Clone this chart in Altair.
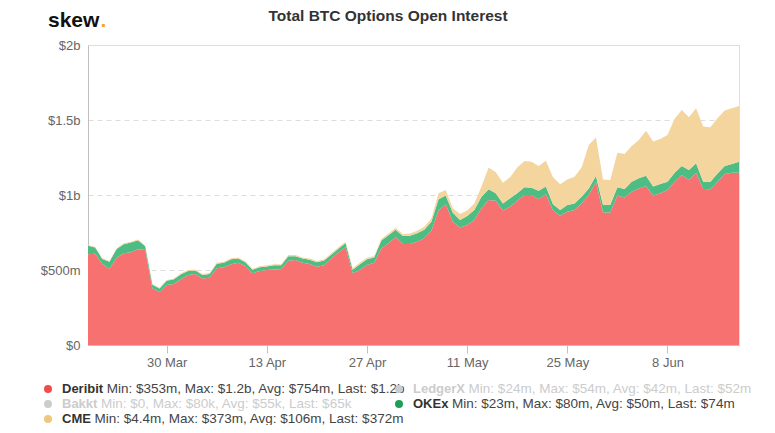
import altair as alt
import pandas as pd

# ---------------- data ----------------
start_date = "2020-03-19"
n_days = 92
dates = pd.date_range(start_date, periods=n_days, freq="D").strftime("%Y-%m-%d").tolist()

# values in $ millions
deribit_m = [605, 609, 540, 509, 582, 611, 618, 638, 633, 378,
             353, 400, 407, 438, 467, 473, 444, 449, 511, 518,
             538, 549, 527, 478, 493, 500, 504, 505, 562, 567,
             549, 540, 522, 531, 576, 616, 651, 478, 500, 533,
             549, 644, 678, 718, 673, 673, 689, 711, 762, 896,
             940, 822, 784, 800, 833, 911, 967, 962, 896, 922,
             962, 1000, 1000, 971, 1007, 896, 862, 889, 900, 944,
             1000, 1089, 884, 884, 996, 984, 1022, 1044, 1060, 996,
             1011, 1033, 1089, 1133, 1100, 1149, 1040, 1038, 1089, 1140,
             1149, 1148]
okex_m = [57, 41, 34, 46, 58, 61, 65, 60, 25, 24,
          24, 28, 31, 34, 27, 24, 23, 25, 31, 30,
          33, 28, 24, 24, 25, 24, 27, 26, 30, 25,
          27, 28, 30, 32, 26, 26, 29, 24, 39, 39,
          34, 52, 54, 51, 53, 56, 56, 58, 60, 75,
          56, 60, 49, 60, 67, 78, 71, 49, 48, 56,
          49, 51, 49, 58, 49, 42, 38, 44, 44, 45,
          44, 38, 49, 49, 55, 56, 67, 67, 69, 60,
          62, 56, 60, 60, 67, 62, 49, 51, 55, 53,
          58, 74]
cme_m = [5, 5, 4.4, 5, 5, 6, 6, 6, 5, 5,
         5, 5, 6, 6, 6, 6, 6, 6, 7, 7,
         7, 7, 7, 7, 7, 7, 7, 7, 8, 8,
         8, 8, 8, 8, 9, 9, 9, 9, 10, 10,
         10, 11, 12, 13, 14, 15, 17, 20, 22, 40,
         37, 29, 40, 36, 44, 67, 146, 140, 138, 140,
         173, 176, 173, 164, 173, 180, 171, 171, 178, 195,
         289, 257, 171, 167, 231, 233, 238, 256, 300, 300,
         300, 311, 360, 373, 351, 367, 367, 362, 368, 370,
         371, 372]

series_names = ["Deribit", "OKEx", "CME"]
series_colors = ["#f87171", "#4dbd84", "#f4d59e"]

tick_dates = ["2020-03-30", "2020-04-13", "2020-04-27", "2020-05-11", "2020-05-25", "2020-06-08"]
y_ticks = [0, 5e8, 1e9, 1.5e9, 2e9]

chart_title = "Total BTC Options Open Interest"

legend_names = ["Deribit", "LedgerX", "Bakkt", "OKEx", "CME"]
legend_stats = ["Min: $353m, Max: $1.2b, Avg: $754m, Last: $1.2b",
                "Min: $24m, Max: $54m, Avg: $42m, Last: $52m",
                "Min: $0, Max: $80k, Avg: $55k, Last: $65k",
                "Min: $23m, Max: $80m, Avg: $50m, Last: $74m",
                "Min: $4.4m, Max: $373m, Avg: $106m, Last: $372m"]
legend_visible = [True, False, False, True, True]
legend_dot_colors = ["#f44a4a", "#cccccc", "#cccccc", "#1f9e58", "#f0c77e"]

# ---------------- build table ----------------
rows = []
for i, d in enumerate(dates):
    for order, (name, vals) in enumerate(zip(series_names, [deribit_m, okex_m, cme_m])):
        rows.append({"date": d, "exchange": name, "value": vals[i] * 1e6, "order": order})
df = pd.DataFrame(rows)

W, H = 651, 300
FONT = "Liberation Sans"


def dt(s):
    y, m, d = (int(p) for p in s.split("-"))
    return alt.DateTime(year=y, month=m, date=d, utc=True)


area = alt.Chart(df).mark_area(opacity=1).encode(
    x=alt.X("date:T",
            scale=alt.Scale(type="utc", domain=[dt(dates[0]), dt(dates[-1])], nice=False),
            axis=alt.Axis(values=[dt(s) for s in tick_dates],
                          labelExpr="utcFormat(datum.value, '%-d %b')",
                          title=None, grid=False, domainColor="#c0c0c0", tickColor="#c0c0c0",
                          tickSize=8, labelPadding=3, labelFontSize=13, labelColor="#666666",
                          labelFont=FONT)),
    y=alt.Y("value:Q", stack="zero",
            scale=alt.Scale(domain=[0, 2e9], nice=False),
            axis=alt.Axis(values=y_ticks,
                          labelExpr="datum.value == 0 ? '$0' : (datum.value < 1e9 ? '$' + format(datum.value/1e6, 'd') + 'm' : '$' + format(datum.value/1e9, '~g') + 'b')",
                          title=None, grid=True, gridDash=[5, 4], gridColor="#dddddd",
                          ticks=False, domain=True, domainColor="#c0c0c0",
                          labelPadding=8, labelFontSize=13, labelColor="#666666", labelFont=FONT)),
    color=alt.Color("exchange:N", scale=alt.Scale(domain=series_names, range=series_colors), legend=None),
    order=alt.Order("order:Q", sort="ascending"),
)

one = pd.DataFrame({"k": [0]})
layers = [area]

# title
layers.append(alt.Chart(one).mark_text(font=FONT, fontSize=15.5, fontWeight="bold", color="#333333",
                                       align="center", baseline="middle", text=chart_title)
              .encode(x=alt.value(300), y=alt.value(-29)))
# logo
layers.append(alt.Chart(one).mark_text(font=FONT, fontSize=21, fontWeight="bold", color="#111111",
                                       align="left", baseline="alphabetic", text="skew")
              .encode(x=alt.value(-40), y=alt.value(-18)))
layers.append(alt.Chart(one).mark_text(font=FONT, fontSize=21, fontWeight="bold", color="#f5a623",
                                       align="left", baseline="alphabetic", text=".")
              .encode(x=alt.value(12.5), y=alt.value(-18)))

# legend
bold_w = {"D": 722, "e": 556, "r": 389, "i": 278, "b": 611, "t": 333, "L": 611, "d": 611,
          "g": 611, "X": 667, "B": 722, "a": 556, "k": 556, "O": 778, "K": 722, "E": 667,
          "x": 556, "C": 722, "M": 833}
NFS = 13
SFS = 13.5
col_x = [-26, 325]
row_y = [H + 44, H + 59, H + 74]
for idx, (nm, st, vis, dc) in enumerate(zip(legend_names, legend_stats, legend_visible, legend_dot_colors)):
    c, r = idx % 2, idx // 2
    tx, ty = col_x[c], row_y[r]
    name_w = sum(bold_w.get(ch, 600) for ch in nm) * NFS / 1000.0
    name_col = "#333333" if vis else "#cccccc"
    stat_col = "#444444" if vis else "#cccccc"
    layers.append(alt.Chart(one).mark_circle(size=64, opacity=1, color=dc)
                  .encode(x=alt.value(tx - 14), y=alt.value(ty)))
    layers.append(alt.Chart(one).mark_text(font=FONT, fontSize=NFS, fontWeight="bold", color=name_col,
                                           align="left", baseline="middle", text=nm)
                  .encode(x=alt.value(tx), y=alt.value(ty)))
    layers.append(alt.Chart(one).mark_text(font=FONT, fontSize=SFS, color=stat_col,
                                           align="left", baseline="middle", text=st)
                  .encode(x=alt.value(tx + name_w + 3.6), y=alt.value(ty)))

chart = alt.layer(*layers).properties(
    width=W, height=H,
    padding={"left": 80, "top": 37, "right": 28, "bottom": 80},
    autosize=alt.AutoSizeParams(type="none"),
).configure_view(stroke=None).configure(font=FONT)

chart.save("out.html", embed_options={"renderer": "svg", "actions": False})
